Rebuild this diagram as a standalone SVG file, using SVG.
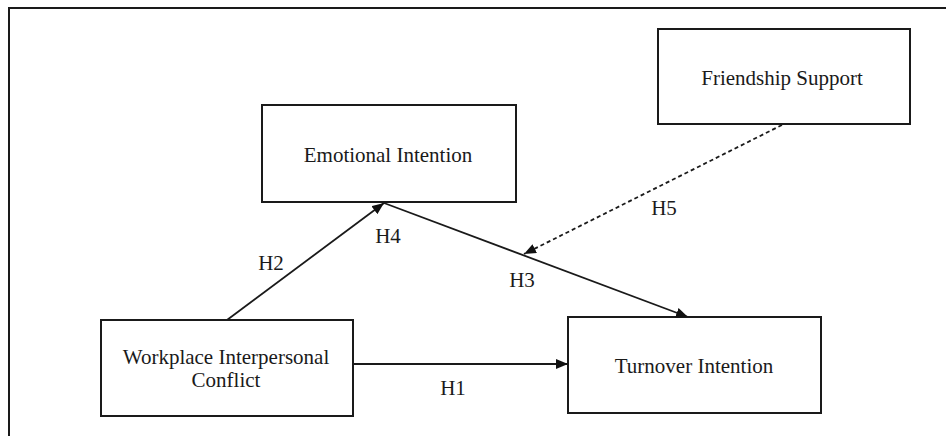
<svg xmlns="http://www.w3.org/2000/svg" width="946" height="436" viewBox="0 0 946 436">
<defs>
<style>
.box{fill:#fff;stroke:#1a1a1a;stroke-width:2}
.t{font-family:"Liberation Serif","Times New Roman",serif;font-size:21px;fill:#1a1a1a;text-anchor:middle}
.ln{stroke:#1a1a1a;stroke-width:1.8;fill:none}
.dash{stroke-dasharray:4,3}
</style>
<marker id="ah" viewBox="0 0 12 10" refX="12" refY="5" markerWidth="12" markerHeight="10" markerUnits="userSpaceOnUse" orient="auto">
<path d="M0,0 L12,5 L0,10 Z" fill="#111"/>
</marker>
</defs>
<rect width="946" height="436" fill="#fff"/>
<path d="M9,445 L9,8 L955,8" fill="none" stroke="#1a1a1a" stroke-width="2"/>
<g id="friendship">
<rect class="box" x="658" y="29" width="252" height="95"/>
<text class="t" x="782" y="85">Friendship Support</text>
</g>
<g id="emotional">
<rect class="box" x="262" y="105" width="254" height="97"/>
<text class="t" x="388" y="162">Emotional Intention</text>
</g>
<g id="workplace">
<rect class="box" x="101" y="320" width="252" height="96"/>
<text class="t" x="226" y="364">Workplace Interpersonal</text>
<text class="t" x="226" y="387">Conflict</text>
</g>
<g id="turnover">
<rect class="box" x="568" y="317" width="253" height="96"/>
<text class="t" x="694" y="373">Turnover Intention</text>
</g>
<g id="connectors">
<line class="ln" x1="227" y1="320" x2="384" y2="203" marker-end="url(#ah)"/>
<line class="ln" x1="384" y1="203" x2="688" y2="317" marker-end="url(#ah)"/>
<line class="ln" x1="353" y1="364" x2="568" y2="364" marker-end="url(#ah)"/>
<line class="ln dash" x1="782" y1="125" x2="524" y2="254" marker-end="url(#ah)"/>
<text class="t" x="271" y="270">H2</text>
<text class="t" x="388" y="243">H4</text>
<text class="t" x="522" y="287">H3</text>
<text class="t" x="664" y="215">H5</text>
<text class="t" x="453" y="395">H1</text>
</g>
</svg>
